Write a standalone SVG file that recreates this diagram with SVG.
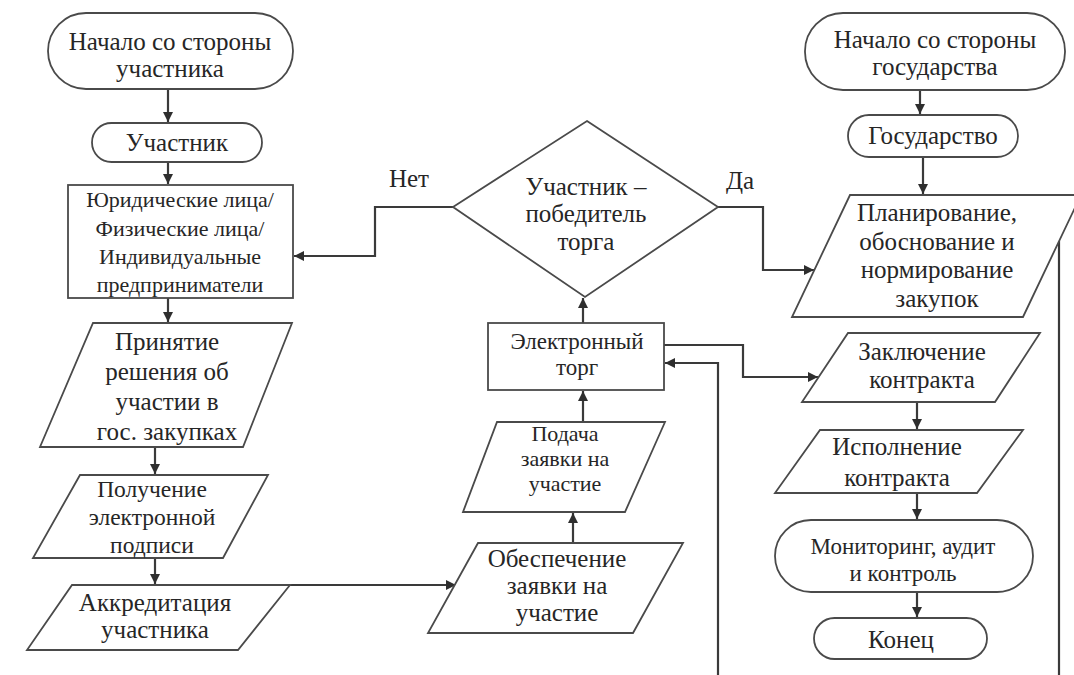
<svg xmlns="http://www.w3.org/2000/svg" width="1074" height="675" viewBox="0 0 1074 675">
<defs>
<style>
.shape{fill:#ffffff;stroke:#4a4a4a;stroke-width:1.8}
.t{font-family:"Liberation Serif","DejaVu Serif","Times New Roman",serif;font-size:25px;fill:#262626;text-anchor:middle}
.s{font-size:22px}
.m{font-size:23.5px}
.p{font-size:22px}
.k{font-size:23px}
.e{fill:none;stroke:#3a3a3a;stroke-width:2.2}
</style>
<marker id="ah" viewBox="0 0 10 10" refX="10" refY="5" markerWidth="10" markerHeight="10" markerUnits="userSpaceOnUse" orient="auto">
<path d="M0,0 L10,5 L0,10 z" fill="#2e2e2e"/>
</marker>
</defs>
<rect width="1074" height="675" fill="#ffffff"/>

<g id="connectors">
<path class="e" d="M168,89 V122" marker-end="url(#ah)"/>
<path class="e" d="M168,162 V184" marker-end="url(#ah)"/>
<path class="e" d="M168,298 V322" marker-end="url(#ah)"/>
<path class="e" d="M155,447 V474" marker-end="url(#ah)"/>
<path class="e" d="M155,558 V584" marker-end="url(#ah)"/>
<path class="e" d="M290,585 H456" marker-end="url(#ah)"/>
<path class="e" d="M573,543 V513" marker-end="url(#ah)"/>
<path class="e" d="M583,422 V391" marker-end="url(#ah)"/>
<path class="e" d="M583,323 V298" marker-end="url(#ah)"/>
<path class="e" d="M453,207 H375 V256 H294" marker-end="url(#ah)"/>
<path class="e" d="M718,207 H763 V270 H814" marker-end="url(#ah)"/>
<path class="e" d="M664,345 H743 V377 H818" marker-end="url(#ah)"/>
<path class="e" d="M718,675 V363 H665" marker-end="url(#ah)"/>
<path class="e" d="M1059,241 V675"/>
<path class="e" d="M920,90 V114" marker-end="url(#ah)"/>
<path class="e" d="M923,157 V194" marker-end="url(#ah)"/>
<path class="e" d="M917,402 V429" marker-end="url(#ah)"/>
<path class="e" d="M917,493 V519" marker-end="url(#ah)"/>
<path class="e" d="M917,592 V617" marker-end="url(#ah)"/>
<text class="t" x="409" y="187">Нет</text>
<text class="t" x="740" y="189">Да</text>
</g>

<g id="start_participant">
<rect class="shape" x="48" y="13" width="245" height="76" rx="38"/>
<text class="t" x="170" y="50">Начало со стороны</text>
<text class="t" x="170" y="77">участника</text>
</g>

<g id="participant">
<rect class="shape" x="92" y="123" width="170" height="39" rx="19.5"/>
<text class="t" x="177" y="151">Участник</text>
</g>

<g id="entities">
<rect class="shape" x="68" y="185" width="225" height="113"/>
<text class="t s" x="180" y="207">Юридические лица/</text>
<text class="t s" x="180" y="236">Физические лица/</text>
<text class="t s" x="180" y="264">Индивидуальные</text>
<text class="t s" x="180" y="292">предприниматели</text>
</g>

<g id="decision_participate">
<polygon class="shape" points="93,323 292,323 243,447 40,447"/>
<text class="t" x="167" y="350">Принятие</text>
<text class="t" x="167" y="380">решения об</text>
<text class="t" x="167" y="410">участии в</text>
<text class="t" x="167" y="440">гос. закупках</text>
</g>

<g id="signature">
<polygon class="shape" points="80,475 268,475 223,558 33,558"/>
<text class="t m" x="152" y="497">Получение</text>
<text class="t m" x="152" y="525">электронной</text>
<text class="t m" x="152" y="553">подписи</text>
</g>

<g id="accreditation">
<polygon class="shape" points="72,585 290,585 238,650 27,650"/>
<text class="t" x="155" y="611">Аккредитация</text>
<text class="t" x="155" y="638">участника</text>
</g>

<g id="security">
<polygon class="shape" points="478,543 683,543 633,633 428,633"/>
<text class="t" x="557" y="567">Обеспечение</text>
<text class="t" x="557" y="594">заявки на</text>
<text class="t" x="557" y="621">участие</text>
</g>

<g id="application">
<polygon class="shape" points="497,422 665,422 625,512 463,512"/>
<text class="t p" x="565" y="441">Подача</text>
<text class="t p" x="565" y="466">заявки на</text>
<text class="t p" x="565" y="491">участие</text>
</g>

<g id="auction">
<rect class="shape" x="488" y="323" width="176" height="67"/>
<text class="t k" x="577" y="349">Электронный</text>
<text class="t k" x="577" y="375">торг</text>
</g>

<g id="winner">
<polygon class="shape" points="587,121 718,207 585,297 453,207"/>
<text class="t" x="586" y="195">Участник –</text>
<text class="t" x="586" y="222">победитель</text>
<text class="t" x="586" y="250">торга</text>
</g>

<g id="start_state">
<rect class="shape" x="805" y="13" width="260" height="77" rx="38"/>
<text class="t" x="935" y="48">Начало со стороны</text>
<text class="t" x="935" y="75">государства</text>
</g>

<g id="state">
<rect class="shape" x="848" y="115" width="170" height="42" rx="21"/>
<text class="t" x="933" y="144">Государство</text>
</g>

<g id="planning">
<polygon class="shape" points="850,195 1081,195 1023,317 792,317"/>
<text class="t" x="937" y="221">Планирование,</text>
<text class="t" x="937" y="250">обоснование и</text>
<text class="t" x="937" y="278">нормирование</text>
<text class="t" x="937" y="307">закупок</text>
</g>

<g id="contract">
<polygon class="shape" points="848,333 1040,333 995,402 802,402"/>
<text class="t" x="922" y="360">Заключение</text>
<text class="t" x="922" y="388">контракта</text>
</g>

<g id="execution">
<polygon class="shape" points="820,430 1023,430 977,493 775,493"/>
<text class="t" x="897" y="455">Исполнение</text>
<text class="t" x="897" y="486">контракта</text>
</g>

<g id="monitoring">
<rect class="shape" x="775" y="520" width="258" height="72" rx="36"/>
<text class="t k" x="903" y="554">Мониторинг, аудит</text>
<text class="t k" x="903" y="581">и контроль</text>
</g>

<g id="end">
<rect class="shape" x="814" y="618" width="173" height="41" rx="20.5"/>
<text class="t" x="901" y="648">Конец</text>
</g>
</svg>
